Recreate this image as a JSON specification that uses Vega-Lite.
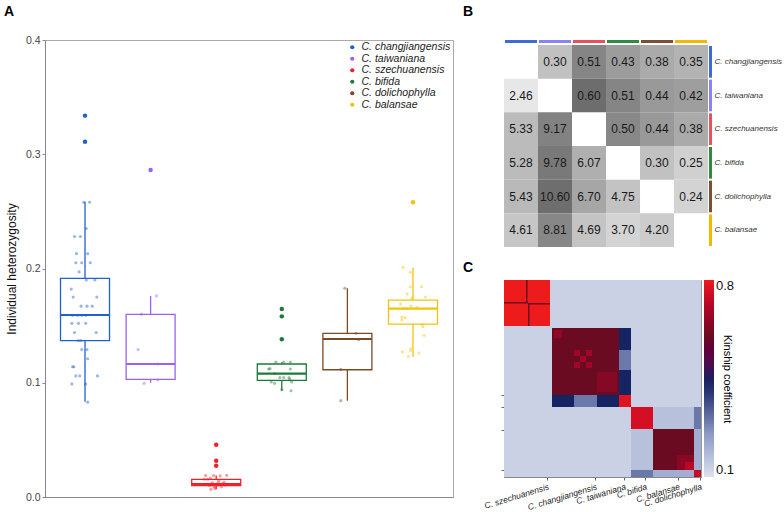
{
  "$schema": "https://vega.github.io/schema/vega-lite/v6.json",
  "padding": {"left": 3, "top": 4, "right": 0, "bottom": 0},
  "background": "white",
  "config": {"font": "Liberation Sans", "view": {"stroke": null}},
  "datasets": {
    "hz": [
      {"species": "C. changjiangensis", "h": 0.258, "jit": -0.02},
      {"species": "C. changjiangensis", "h": 0.258, "jit": 0.07},
      {"species": "C. changjiangensis", "h": 0.235, "jit": 0.02},
      {"species": "C. changjiangensis", "h": 0.228, "jit": -0.16},
      {"species": "C. changjiangensis", "h": 0.228, "jit": -0.07},
      {"species": "C. changjiangensis", "h": 0.213, "jit": -0.13},
      {"species": "C. changjiangensis", "h": 0.213, "jit": 0.04},
      {"species": "C. changjiangensis", "h": 0.205, "jit": -0.14},
      {"species": "C. changjiangensis", "h": 0.205, "jit": -0.05},
      {"species": "C. changjiangensis", "h": 0.205, "jit": 0.08},
      {"species": "C. changjiangensis", "h": 0.197, "jit": -0.09},
      {"species": "C. changjiangensis", "h": 0.19, "jit": 0.02},
      {"species": "C. changjiangensis", "h": 0.19, "jit": 0.15},
      {"species": "C. changjiangensis", "h": 0.182, "jit": -0.21},
      {"species": "C. changjiangensis", "h": 0.175, "jit": -0.18},
      {"species": "C. changjiangensis", "h": 0.175, "jit": 0.18},
      {"species": "C. changjiangensis", "h": 0.167, "jit": -0.06},
      {"species": "C. changjiangensis", "h": 0.167, "jit": 0.03},
      {"species": "C. changjiangensis", "h": 0.167, "jit": 0.11},
      {"species": "C. changjiangensis", "h": 0.159, "jit": -0.19},
      {"species": "C. changjiangensis", "h": 0.159, "jit": -0.11},
      {"species": "C. changjiangensis", "h": 0.159, "jit": -0.05},
      {"species": "C. changjiangensis", "h": 0.159, "jit": 0.01},
      {"species": "C. changjiangensis", "h": 0.152, "jit": -0.2},
      {"species": "C. changjiangensis", "h": 0.152, "jit": -0.1},
      {"species": "C. changjiangensis", "h": 0.152, "jit": 0.01},
      {"species": "C. changjiangensis", "h": 0.144, "jit": -0.16},
      {"species": "C. changjiangensis", "h": 0.144, "jit": 0.17},
      {"species": "C. changjiangensis", "h": 0.137, "jit": -0.1},
      {"species": "C. changjiangensis", "h": 0.137, "jit": -0.06},
      {"species": "C. changjiangensis", "h": 0.129, "jit": -0.05},
      {"species": "C. changjiangensis", "h": 0.129, "jit": 0.03},
      {"species": "C. changjiangensis", "h": 0.121, "jit": 0.04},
      {"species": "C. changjiangensis", "h": 0.114, "jit": -0.19},
      {"species": "C. changjiangensis", "h": 0.114, "jit": -0.17},
      {"species": "C. changjiangensis", "h": 0.106, "jit": -0.14},
      {"species": "C. changjiangensis", "h": 0.106, "jit": -0.08},
      {"species": "C. changjiangensis", "h": 0.106, "jit": 0.19},
      {"species": "C. changjiangensis", "h": 0.099, "jit": -0.2},
      {"species": "C. changjiangensis", "h": 0.099, "jit": 0.01},
      {"species": "C. changjiangensis", "h": 0.083, "jit": 0.04},
      {"species": "C. taiwaniana", "h": 0.176, "jit": 0.09},
      {"species": "C. taiwaniana", "h": 0.16, "jit": -0.14},
      {"species": "C. taiwaniana", "h": 0.129, "jit": -0.19},
      {"species": "C. taiwaniana", "h": 0.1164, "jit": 0.11},
      {"species": "C. taiwaniana", "h": 0.0995, "jit": -0.1},
      {"species": "C. taiwaniana", "h": 0.1024, "jit": 0.11},
      {"species": "C. szechuanensis", "h": 0.0188, "jit": -0.16},
      {"species": "C. szechuanensis", "h": 0.0188, "jit": -0.04},
      {"species": "C. szechuanensis", "h": 0.0185, "jit": 0.06},
      {"species": "C. szechuanensis", "h": 0.019, "jit": 0.16},
      {"species": "C. szechuanensis", "h": 0.0155, "jit": -0.18},
      {"species": "C. szechuanensis", "h": 0.0155, "jit": -0.13},
      {"species": "C. szechuanensis", "h": 0.0127, "jit": -0.06},
      {"species": "C. szechuanensis", "h": 0.0127, "jit": 0.03},
      {"species": "C. szechuanensis", "h": 0.013, "jit": 0.12},
      {"species": "C. szechuanensis", "h": 0.011, "jit": 0.05},
      {"species": "C. szechuanensis", "h": 0.009, "jit": -0.03},
      {"species": "C. szechuanensis", "h": 0.009, "jit": 0.08},
      {"species": "C. szechuanensis", "h": 0.0105, "jit": 0.02},
      {"species": "C. szechuanensis", "h": 0.0067, "jit": -0.08},
      {"species": "C. szechuanensis", "h": 0.0075, "jit": -0.02},
      {"species": "C. szechuanensis", "h": 0.0115, "jit": 0.1},
      {"species": "C. szechuanensis", "h": 0.0105, "jit": 0.14},
      {"species": "C. szechuanensis", "h": 0.01, "jit": -0.1},
      {"species": "C. szechuanensis", "h": 0.0145, "jit": 0.04},
      {"species": "C. szechuanensis", "h": 0.0165, "jit": -0.09},
      {"species": "C. bifida", "h": 0.118, "jit": -0.09},
      {"species": "C. bifida", "h": 0.118, "jit": 0.03},
      {"species": "C. bifida", "h": 0.118, "jit": 0.13},
      {"species": "C. bifida", "h": 0.112, "jit": -0.2},
      {"species": "C. bifida", "h": 0.1125, "jit": -0.18},
      {"species": "C. bifida", "h": 0.112, "jit": 0.13},
      {"species": "C. bifida", "h": 0.108, "jit": -0.11},
      {"species": "C. bifida", "h": 0.1045, "jit": -0.03},
      {"species": "C. bifida", "h": 0.1045, "jit": 0.03},
      {"species": "C. bifida", "h": 0.1045, "jit": 0.11},
      {"species": "C. bifida", "h": 0.103, "jit": 0.12},
      {"species": "C. bifida", "h": 0.1007, "jit": -0.16},
      {"species": "C. bifida", "h": 0.0995, "jit": -0.11},
      {"species": "C. bifida", "h": 0.1007, "jit": 0.15},
      {"species": "C. bifida", "h": 0.094, "jit": 0.0},
      {"species": "C. bifida", "h": 0.093, "jit": 0.14},
      {"species": "C. dolichophylla", "h": 0.1827, "jit": -0.04},
      {"species": "C. dolichophylla", "h": 0.1433, "jit": 0.13},
      {"species": "C. dolichophylla", "h": 0.1377, "jit": 0.17},
      {"species": "C. dolichophylla", "h": 0.1117, "jit": -0.1},
      {"species": "C. dolichophylla", "h": 0.0843, "jit": -0.1},
      {"species": "C. balansae", "h": 0.201, "jit": -0.15},
      {"species": "C. balansae", "h": 0.1967, "jit": -0.04},
      {"species": "C. balansae", "h": 0.184, "jit": -0.04},
      {"species": "C. balansae", "h": 0.184, "jit": 0.13},
      {"species": "C. balansae", "h": 0.1777, "jit": -0.09},
      {"species": "C. balansae", "h": 0.174, "jit": -0.02},
      {"species": "C. balansae", "h": 0.175, "jit": 0.19},
      {"species": "C. balansae", "h": 0.169, "jit": -0.19},
      {"species": "C. balansae", "h": 0.165, "jit": -0.14},
      {"species": "C. balansae", "h": 0.165, "jit": -0.09},
      {"species": "C. balansae", "h": 0.167, "jit": -0.03},
      {"species": "C. balansae", "h": 0.166, "jit": 0.06},
      {"species": "C. balansae", "h": 0.1575, "jit": -0.17},
      {"species": "C. balansae", "h": 0.157, "jit": -0.12},
      {"species": "C. balansae", "h": 0.155, "jit": -0.17},
      {"species": "C. balansae", "h": 0.151, "jit": 0.14},
      {"species": "C. balansae", "h": 0.149, "jit": 0.15},
      {"species": "C. balansae", "h": 0.1415, "jit": 0.17},
      {"species": "C. balansae", "h": 0.127, "jit": -0.16},
      {"species": "C. balansae", "h": 0.128, "jit": -0.04},
      {"species": "C. balansae", "h": 0.13, "jit": -0.03},
      {"species": "C. balansae", "h": 0.126, "jit": 0.09},
      {"species": "C. balansae", "h": 0.123, "jit": -0.07}
    ],
    "box": [
      {"species": "C. changjiangensis", "lo": 0.0834, "q1": 0.1368, "med": 0.1593, "q3": 0.1914, "hi": 0.2585},
      {"species": "C. taiwaniana", "lo": 0.1, "q1": 0.103, "med": 0.1164, "q3": 0.1599, "hi": 0.176},
      {"species": "C. szechuanensis", "lo": 0.0067, "q1": 0.0099, "med": 0.0114, "q3": 0.0155, "hi": 0.0188},
      {"species": "C. bifida", "lo": 0.0931, "q1": 0.1021, "med": 0.1079, "q3": 0.1164, "hi": 0.118},
      {"species": "C. dolichophylla", "lo": 0.0843, "q1": 0.1114, "med": 0.1383, "q3": 0.1433, "hi": 0.1827},
      {"species": "C. balansae", "lo": 0.1225, "q1": 0.1514, "med": 0.1648, "q3": 0.1724, "hi": 0.2007}
    ],
    "out": [
      {"species": "C. changjiangensis", "h": 0.3338},
      {"species": "C. changjiangensis", "h": 0.311},
      {"species": "C. taiwaniana", "h": 0.2862},
      {"species": "C. szechuanensis", "h": 0.0458},
      {"species": "C. szechuanensis", "h": 0.0318},
      {"species": "C. szechuanensis", "h": 0.0274},
      {"species": "C. bifida", "h": 0.1646},
      {"species": "C. bifida", "h": 0.1581},
      {"species": "C. bifida", "h": 0.138},
      {"species": "C. balansae", "h": 0.258}
    ],
    "sp": [
      {"species": "C. changjiangensis"}, {"species": "C. taiwaniana"}, {"species": "C. szechuanensis"},
      {"species": "C. bifida"}, {"species": "C. dolichophylla"}, {"species": "C. balansae"}
    ],
    "fst": [
      {"r": "C. changjiangensis", "c": "C. taiwaniana", "v": 0.30, "t": "u"},
      {"r": "C. changjiangensis", "c": "C. szechuanensis", "v": 0.51, "t": "u"},
      {"r": "C. changjiangensis", "c": "C. bifida", "v": 0.43, "t": "u"},
      {"r": "C. changjiangensis", "c": "C. dolichophylla", "v": 0.38, "t": "u"},
      {"r": "C. changjiangensis", "c": "C. balansae", "v": 0.35, "t": "u"},
      {"r": "C. taiwaniana", "c": "C. szechuanensis", "v": 0.60, "t": "u"},
      {"r": "C. taiwaniana", "c": "C. bifida", "v": 0.51, "t": "u"},
      {"r": "C. taiwaniana", "c": "C. dolichophylla", "v": 0.44, "t": "u"},
      {"r": "C. taiwaniana", "c": "C. balansae", "v": 0.42, "t": "u"},
      {"r": "C. szechuanensis", "c": "C. bifida", "v": 0.50, "t": "u"},
      {"r": "C. szechuanensis", "c": "C. dolichophylla", "v": 0.44, "t": "u"},
      {"r": "C. szechuanensis", "c": "C. balansae", "v": 0.38, "t": "u"},
      {"r": "C. bifida", "c": "C. dolichophylla", "v": 0.30, "t": "u"},
      {"r": "C. bifida", "c": "C. balansae", "v": 0.25, "t": "u"},
      {"r": "C. dolichophylla", "c": "C. balansae", "v": 0.24, "t": "u"},
      {"r": "C. taiwaniana", "c": "C. changjiangensis", "v": 2.46, "t": "l"},
      {"r": "C. szechuanensis", "c": "C. changjiangensis", "v": 5.33, "t": "l"},
      {"r": "C. szechuanensis", "c": "C. taiwaniana", "v": 9.17, "t": "l"},
      {"r": "C. bifida", "c": "C. changjiangensis", "v": 5.28, "t": "l"},
      {"r": "C. bifida", "c": "C. taiwaniana", "v": 9.78, "t": "l"},
      {"r": "C. bifida", "c": "C. szechuanensis", "v": 6.07, "t": "l"},
      {"r": "C. dolichophylla", "c": "C. changjiangensis", "v": 5.43, "t": "l"},
      {"r": "C. dolichophylla", "c": "C. taiwaniana", "v": 10.60, "t": "l"},
      {"r": "C. dolichophylla", "c": "C. szechuanensis", "v": 6.70, "t": "l"},
      {"r": "C. dolichophylla", "c": "C. bifida", "v": 4.75, "t": "l"},
      {"r": "C. balansae", "c": "C. changjiangensis", "v": 4.61, "t": "l"},
      {"r": "C. balansae", "c": "C. taiwaniana", "v": 8.81, "t": "l"},
      {"r": "C. balansae", "c": "C. szechuanensis", "v": 4.69, "t": "l"},
      {"r": "C. balansae", "c": "C. bifida", "v": 3.70, "t": "l"},
      {"r": "C. balansae", "c": "C. dolichophylla", "v": 4.20, "t": "l"}
    ],
    "kin": [
      {"x1": 0, "x2": 197, "y1": 0, "y2": 197, "k": 0.135},
      {"x1": 0, "x2": 46, "y1": 0, "y2": 46, "k": 0.8},
      {"x1": 22, "x2": 23.5, "y1": 0, "y2": 23, "k": 0.6},
      {"x1": 0, "x2": 24, "y1": 22, "y2": 23.5, "k": 0.6},
      {"x1": 24, "x2": 25.5, "y1": 23, "y2": 46, "k": 0.6},
      {"x1": 24, "x2": 46, "y1": 23, "y2": 24.5, "k": 0.6},
      {"x1": 48, "x2": 115, "y1": 48, "y2": 115, "k": 0.6},
      {"x1": 50, "x2": 58, "y1": 50, "y2": 58, "k": 0.66},
      {"x1": 70, "x2": 76, "y1": 70, "y2": 76, "k": 0.68},
      {"x1": 82, "x2": 88, "y1": 70, "y2": 76, "k": 0.68},
      {"x1": 76, "x2": 82, "y1": 76, "y2": 82, "k": 0.68},
      {"x1": 70, "x2": 76, "y1": 82, "y2": 88, "k": 0.68},
      {"x1": 82, "x2": 88, "y1": 82, "y2": 88, "k": 0.68},
      {"x1": 93, "x2": 113, "y1": 92, "y2": 112, "k": 0.64},
      {"x1": 115, "x2": 127, "y1": 48, "y2": 115, "k": 0.43},
      {"x1": 115, "x2": 127, "y1": 70, "y2": 90, "k": 0.3},
      {"x1": 48, "x2": 115, "y1": 115, "y2": 127, "k": 0.43},
      {"x1": 70, "x2": 93, "y1": 115, "y2": 127, "k": 0.3},
      {"x1": 115, "x2": 127, "y1": 115, "y2": 127, "k": 0.78},
      {"x1": 127, "x2": 149, "y1": 127, "y2": 149, "k": 0.76},
      {"x1": 149, "x2": 190, "y1": 127, "y2": 149, "k": 0.17},
      {"x1": 127, "x2": 149, "y1": 149, "y2": 190, "k": 0.17},
      {"x1": 190, "x2": 197, "y1": 127, "y2": 149, "k": 0.3},
      {"x1": 127, "x2": 149, "y1": 190, "y2": 197, "k": 0.3},
      {"x1": 149, "x2": 190, "y1": 149, "y2": 190, "k": 0.6},
      {"x1": 173, "x2": 190, "y1": 175, "y2": 190, "k": 0.65},
      {"x1": 181, "x2": 190, "y1": 182, "y2": 190, "k": 0.72},
      {"x1": 190, "x2": 197, "y1": 149, "y2": 190, "k": 0.21},
      {"x1": 149, "x2": 190, "y1": 190, "y2": 197, "k": 0.21},
      {"x1": 190, "x2": 197, "y1": 190, "y2": 197, "k": 0.74}
    ]
  },
  "spacing": 8,
  "resolve": {"scale": {"x": "independent", "y": "independent", "color": "independent"}, "legend": {"color": "independent"}},
  "hconcat": [
    {
      "width": 408,
      "height": 457,
      "view": {"stroke": "#aaaaaa"},
      "title": {"text": "A", "anchor": "start", "frame": "group", "dx": -41, "offset": 5, "baseline": "alphabetic", "fontSize": 14, "fontWeight": "bold", "color": "#000"},
      "encoding": {
        "x": {
          "field": "species", "type": "nominal",
          "scale": {"domain": ["C. changjiangensis", "C. taiwaniana", "C. szechuanensis", "C. bifida", "C. dolichophylla", "C. balansae"], "paddingInner": 0, "paddingOuter": 0.11},
          "axis": {"labels": false, "ticks": false, "title": null, "domainColor": "#888888"}
        },
        "color": {"field": "species", "type": "nominal",
          "scale": {"domain": ["C. changjiangensis", "C. taiwaniana", "C. szechuanensis", "C. bifida", "C. dolichophylla", "C. balansae"], "range": ["#2060d2", "#9a62f2", "#f0202a", "#1e7a3c", "#7a4b22", "#f3c20f"]},
          "legend": {"orient": "top-right", "offset": 2, "title": null, "labelFontSize": 10.5, "labelFontStyle": "italic", "labelColor": "#222222", "symbolSize": 18, "symbolType": "circle", "symbolOpacity": 1, "symbolStrokeWidth": 0, "rowPadding": 0.5, "labelOffset": 4}}
      },
      "layer": [
        {
          "data": {"name": "out"},
          "mark": {"type": "circle", "size": 20, "opacity": 1},
          "encoding": {
            "y": {"field": "h", "type": "quantitative", "scale": {"domain": [0, 0.4], "nice": false},
              "axis": {"title": "Individual heterozygosity", "values": [0, 0.1, 0.2, 0.3, 0.4], "format": ".1f", "grid": false, "labelFontSize": 10.5, "labelColor": "#444444", "titleFontSize": 12, "titleFontWeight": "normal", "titleColor": "#111111", "domainColor": "#888888", "tickColor": "#888888", "tickSize": 3, "titlePadding": 7}}
          }
        },
        {
          "data": {"name": "box"},
          "mark": {"type": "rule", "strokeWidth": 1.3},
          "encoding": {
            "y": {"field": "lo", "type": "quantitative"},
            "y2": {"field": "q1"}
          }
        },
        {
          "data": {"name": "box"},
          "mark": {"type": "rule", "strokeWidth": 1.3},
          "encoding": {
            "y": {"field": "q3", "type": "quantitative"},
            "y2": {"field": "hi"}
          }
        },
        {
          "data": {"name": "box"},
          "mark": {"type": "bar", "width": 49, "filled": false, "strokeWidth": 1.3},
          "encoding": {
            "y": {"field": "q1", "type": "quantitative"},
            "y2": {"field": "q3"}
          }
        },
        {
          "data": {"name": "box"},
          "mark": {"type": "bar", "width": 49, "filled": false, "strokeWidth": 2.2},
          "encoding": {
            "y": {"field": "med", "type": "quantitative"},
            "y2": {"field": "med"}
          }
        },
        {
          "data": {"name": "hz"},
          "mark": {"type": "circle", "size": 10, "opacity": 0.45},
          "encoding": {
            "y": {"field": "h", "type": "quantitative"},
            "xOffset": {"field": "jit", "type": "quantitative", "scale": {"domain": [-0.5, 0.5]}}
          }
        }
      ]
    },
    {
      "spacing": 12,
      "align": "none",
      "resolve": {"scale": {"x": "independent", "y": "independent", "color": "independent"}, "legend": {"color": "independent"}},
      "vconcat": [
        {
          "title": {"text": "B", "anchor": "start", "frame": "group", "dx": -41, "offset": 10, "baseline": "alphabetic", "fontSize": 14, "fontWeight": "bold", "color": "#000"},
          "spacing": 1,
          "resolve": {"scale": {"x": "independent", "y": "independent", "color": "independent"}, "legend": {"color": "independent"}},
          "vconcat": [
            {
              "width": 204,
              "height": 3,
              "data": {"name": "sp"},
              "mark": {"type": "bar", "width": 32},
              "encoding": {
                "x": {"field": "species", "type": "nominal", "sort": ["C. changjiangensis", "C. taiwaniana", "C. szechuanensis", "C. bifida", "C. dolichophylla", "C. balansae"], "axis": null, "scale": {"type": "band", "paddingInner": 0, "paddingOuter": 0}},
                "color": {"field": "species", "type": "nominal", "scale": {"domain": ["C. changjiangensis", "C. taiwaniana", "C. szechuanensis", "C. bifida", "C. dolichophylla", "C. balansae"], "range": ["#3d6bd8", "#8a84f2", "#e8505a", "#2e8b40", "#7b5030", "#f5b800"]}, "legend": null}
              }
            },
            {
              "spacing": 1,
              "resolve": {"scale": {"x": "independent", "y": "independent", "color": "independent"}, "legend": {"color": "independent"}},
              "hconcat": [
                {
                  "width": 204,
                  "height": 202,
                  "data": {"name": "fst"},
                  "encoding": {
                    "x": {"field": "c", "type": "nominal", "sort": ["C. changjiangensis", "C. taiwaniana", "C. szechuanensis", "C. bifida", "C. dolichophylla", "C. balansae"], "axis": null, "scale": {"type": "band", "paddingInner": 0, "paddingOuter": 0}},
                    "y": {"field": "r", "type": "nominal", "sort": ["C. changjiangensis", "C. taiwaniana", "C. szechuanensis", "C. bifida", "C. dolichophylla", "C. balansae"], "axis": null, "scale": {"type": "band", "paddingInner": 0, "paddingOuter": 0}}
                  },
                  "layer": [
                    {
                      "transform": [{"filter": "datum.t == 'u'"}],
                      "mark": {"type": "rect", "width": 34, "height": 33.7},
                      "encoding": {"color": {"field": "v", "type": "quantitative", "scale": {"domain": [0.24, 0.6], "range": ["#d3d3d3", "#6d6d6d"]}, "legend": null}}
                    },
                    {
                      "transform": [{"filter": "datum.t == 'l'"}],
                      "mark": {"type": "rect", "width": 34, "height": 33.7},
                      "encoding": {"color": {"field": "v", "type": "quantitative", "scale": {"domain": [2.46, 10.6], "range": ["#e7e7e7", "#6e6e6e"]}, "legend": null}}
                    },
                    {
                      "mark": {"type": "text", "fontSize": 12, "color": "#1a1a1a"},
                      "encoding": {"text": {"field": "v", "type": "quantitative", "format": ".2f"}}
                    }
                  ],
                  "resolve": {"scale": {"color": "independent"}}
                },
                {
                  "width": 3,
                  "height": 202,
                  "data": {"name": "sp"},
                  "mark": "bar",
                  "encoding": {
                    "y": {"field": "species", "type": "nominal", "sort": ["C. changjiangensis", "C. taiwaniana", "C. szechuanensis", "C. bifida", "C. dolichophylla", "C. balansae"], "scale": {"type": "band", "paddingInner": 0.06, "paddingOuter": 0.03},
                      "axis": {"orient": "right", "title": null, "domain": false, "ticks": false, "labelFontSize": 8, "labelFontStyle": "italic", "labelColor": "#333333", "labelPadding": 2}},
                    "color": {"field": "species", "type": "nominal", "scale": {"domain": ["C. changjiangensis", "C. taiwaniana", "C. szechuanensis", "C. bifida", "C. dolichophylla", "C. balansae"], "range": ["#3d6bd8", "#8a84f2", "#e8505a", "#2e8b40", "#7b5030", "#f5b800"]}, "legend": null}
                  }
                }
              ]
            }
          ]
        },
        {
          "width": 197,
          "height": 197,
          "view": {"stroke": "#999999"},
          "title": {"text": "C", "anchor": "start", "frame": "group", "dx": -41, "offset": -6, "baseline": "alphabetic", "fontSize": 14, "fontWeight": "bold", "color": "#000"},
          "data": {"name": "kin"},
          "mark": "rect",
          "encoding": {
            "x": {"field": "x1", "type": "quantitative", "scale": {"domain": [0, 197], "nice": false, "zero": false},
              "axis": {"values": [43, 91, 120, 141, 174, 196], "labelExpr": "datum.value == 43 ? 'C. szechuanensis' : datum.value == 91 ? 'C. changjiangensis' : datum.value == 120 ? 'C. taiwaniana' : datum.value == 141 ? 'C. bifida' : datum.value == 174 ? 'C. balansae' : 'C. dolichophylla'", "labelAngle": -17, "labelAlign": "right", "labelBaseline": "top", "labelFontSize": 8.5, "labelFontStyle": "italic", "labelColor": "#222222", "labelPadding": 2, "tickSize": 3, "grid": false, "title": null, "domainColor": "#888888", "tickColor": "#666666", "labelOverlap": false}},
            "x2": {"field": "x2"},
            "y": {"field": "y1", "type": "quantitative", "scale": {"domain": [0, 197], "nice": false, "zero": false, "reverse": true},
              "axis": {"values": [115, 127, 150, 190], "labels": false, "tickSize": 3, "grid": false, "title": null, "domainColor": "#888888", "tickColor": "#666666"}},
            "y2": {"field": "y2"},
            "color": {"field": "k", "type": "quantitative",
              "scale": {"domain": [0.1, 0.25, 0.44, 0.6, 0.8], "range": ["#dde2ef", "#8d9cc6", "#0c1f5e", "#6b0b22", "#ee1b1c"]},
              "legend": {"orient": "right", "offset": 3, "gradientLength": 197, "gradientThickness": 10, "values": [0.1, 0.8], "labelFontSize": 13, "labelColor": "#111111", "title": "Kinship coefficient", "titleOrient": "right", "titleAngle": 90, "titleFontSize": 11, "titleFontWeight": "normal", "titleAnchor": "middle", "titlePadding": -12, "gradientStrokeWidth": 0}}
          }
        }
      ]
    }
  ]
}
